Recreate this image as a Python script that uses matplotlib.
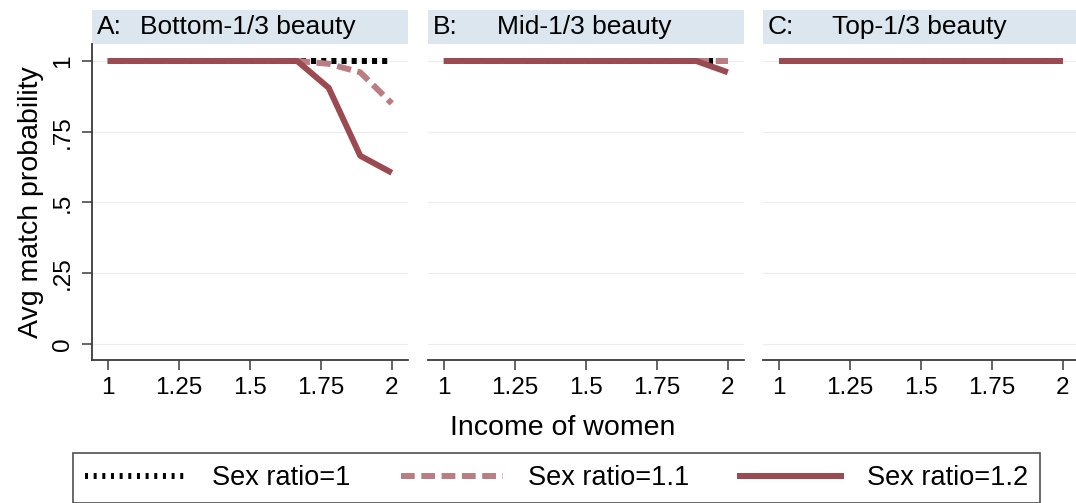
import numpy as np
import matplotlib
matplotlib.use("Agg")
import matplotlib.pyplot as plt
from matplotlib.patches import Rectangle
from matplotlib.lines import Line2D

plt.rcParams['font.family'] = ['Liberation Sans', 'DejaVu Sans']

# income grid for women (10 points between 1 and 2)
income = [1, 1.111, 1.222, 1.333, 1.444, 1.556, 1.667, 1.778, 1.889, 2]

panel_letters = ["A:", "B:", "C:"]
panel_names = ["Bottom-1/3 beauty", "Mid-1/3 beauty", "Top-1/3 beauty"]

series_labels = ["Sex ratio=1", "Sex ratio=1.1", "Sex ratio=1.2"]

# avg match probability per panel, per sex ratio
ratio_1 = [
    [1, 1, 1, 1, 1, 1, 1, 1, 1, 1],
    [1, 1, 1, 1, 1, 1, 1, 1, 1, 1],
    [1, 1, 1, 1, 1, 1, 1, 1, 1, 1],
]
ratio_11 = [
    [1, 1, 1, 1, 1, 1, 1, 0.99, 0.96, 0.85],
    [1, 1, 1, 1, 1, 1, 1, 1, 1, 1],
    [1, 1, 1, 1, 1, 1, 1, 1, 1, 1],
]
ratio_12 = [
    [1, 1, 1, 1, 1, 1, 1, 0.905, 0.665, 0.605],
    [1, 1, 1, 1, 1, 1, 1, 1, 1, 0.96],
    [1, 1, 1, 1, 1, 1, 1, 1, 1, 1],
]

yticks = [0, 0.25, 0.5, 0.75, 1]
ytick_labels = ["0", ".25", ".5", ".75", "1"]
xticks = [1, 1.25, 1.5, 1.75, 2]
xtick_labels = ["1", "1.25", "1.5", "1.75", "2"]

W, H = 1076, 503
fig = plt.figure(figsize=(W / 100, H / 100), dpi=100)

c_solid = "#9a4a50"
c_dash = "#b97d82"
strip_color = "#dbe6ee"
axis_color = "#3a3a3a"
lw = 4.3

lefts = [92, 428, 763]
panel_w = 316
top_px, bottom_px = 44, 360
strip_top = 10

axes = []
for i, lx in enumerate(lefts):
    ax = fig.add_axes([lx / W, 1 - bottom_px / H, panel_w / W, (bottom_px - top_px) / H])
    axes.append(ax)
    ax.set_xlim(0.945, 2.057)
    ax.set_ylim(-0.0565, 1.060)
    for y in yticks:
        ax.axhline(y, color="#ececec", lw=0.8, zorder=0)

    ax.plot(income, ratio_1[i], color="black", lw=lw, linestyle=(0, (0.85, 0.85)), zorder=2)
    ax.plot(income, ratio_11[i], color=c_dash, lw=lw, linestyle=(0, (2.4, 1.1)), zorder=3)
    ax.plot(income, ratio_12[i], color=c_solid, lw=lw, solid_capstyle="butt", zorder=4)

    for s in ["top", "right"]:
        ax.spines[s].set_visible(False)
    ax.spines["bottom"].set_color(axis_color)
    ax.spines["bottom"].set_linewidth(1.3)
    ax.set_xticks(xticks)
    ax.set_xticklabels(xtick_labels, fontsize=17.5)
    ax.tick_params(axis="x", length=7, width=1.1, color=axis_color, pad=5)

    if i == 0:
        ax.spines["left"].set_color(axis_color)
        ax.spines["left"].set_linewidth(1.3)
        ax.set_yticks(yticks)
        ax.set_yticklabels(ytick_labels, fontsize=17.5, rotation=90, va="center")
        ax.tick_params(axis="y", length=7, width=1.1, color=axis_color, pad=6)
        ax.set_ylabel("Avg match probability", fontsize=20.5, labelpad=6)
    else:
        ax.spines["left"].set_visible(False)
        ax.set_yticks([])

    # header strip above each panel
    strip_h = (top_px - strip_top) / (bottom_px - top_px)
    ax.add_patch(Rectangle((0, 1), 1, strip_h, transform=ax.transAxes,
                           facecolor=strip_color, edgecolor="none", clip_on=False))
    ax.text(5 / panel_w, 1 + strip_h / 2, panel_letters[i], transform=ax.transAxes,
            fontsize=19, va="center", ha="left")
    name_off = 48 if i == 0 else 69
    ax.text(name_off / panel_w, 1 + strip_h / 2, panel_names[i], transform=ax.transAxes,
            fontsize=19, va="center", ha="left")

fig.text(563 / W, 1 - 428 / H, "Income of women", fontsize=20.5, ha="center", va="center")

handles = [
    Line2D([], [], color="black", lw=lw, linestyle=(0, (0.5, 0.95))),
    Line2D([], [], color=c_dash, lw=lw, linestyle=(0, (2.3, 1.1))),
    Line2D([], [], color=c_solid, lw=lw),
]
leg = fig.legend(handles, series_labels, loc="upper left", ncol=3,
                 bbox_to_anchor=(73 / W, 1 - 453 / H),
                 fontsize=19.5, handlelength=3.75, handletextpad=0.95,
                 columnspacing=1.85, borderpad=0.45,
                 frameon=True, fancybox=False, borderaxespad=0)
leg.get_frame().set_edgecolor("#222222")
leg.get_frame().set_linewidth(1.2)

fig.savefig("out.png", dpi=100)
